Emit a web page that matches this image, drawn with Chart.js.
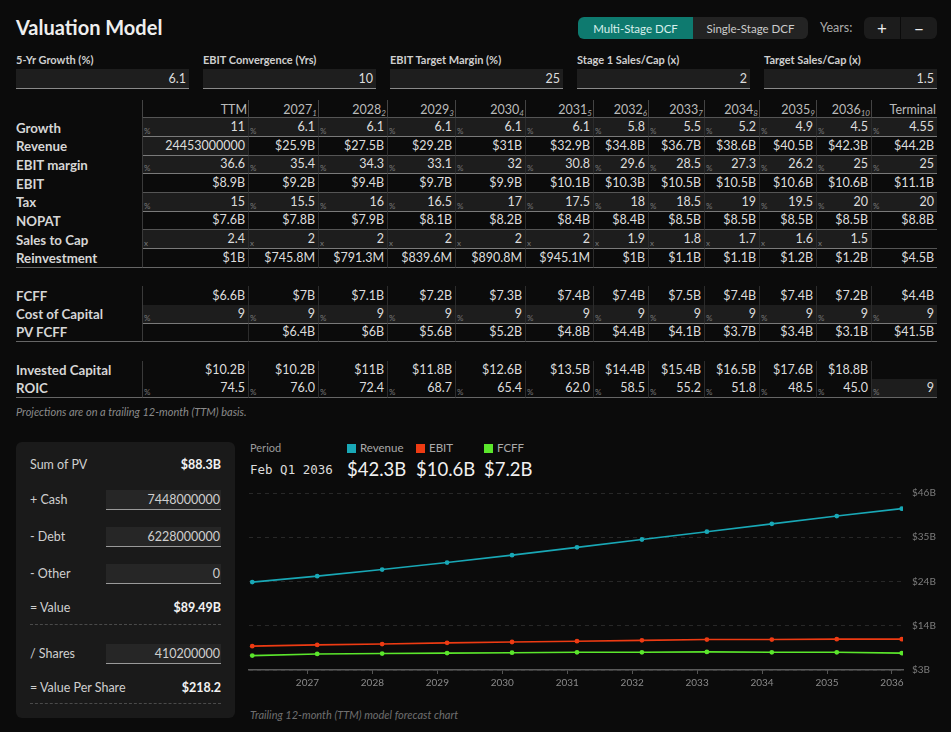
<!DOCTYPE html>
<html>
<head>
<meta charset="utf-8">
<script src="https://cdn.jsdelivr.net/npm/chart.js@4.4.1/dist/chart.umd.min.js"></script>
<style>
body{margin:0;background:#0b0b0b;color:#ddd;font-family:Lato,"Noto Sans",sans-serif;width:951px;height:732px;overflow:hidden;position:relative}
h1{position:absolute;left:16px;top:15px;margin:0;font-size:20px;font-weight:700;color:#eee}
.toggle{position:absolute;left:578px;top:17px;height:22px;display:flex;border-radius:6px;overflow:hidden;font-size:11.5px}
.toggle div{width:115px;display:flex;align-items:center;justify-content:center;background:#232323;color:#ccc}
.toggle .on{background:#0e7a6f;color:#d8efec}
.years{position:absolute;left:820px;top:20px;font-size:12.5px;color:#aaa}
.pm{position:absolute;left:864px;top:17px;width:73px;height:22px;display:flex;border-radius:6px;overflow:hidden;background:#1c1c1c}
.pm div{flex:1;display:flex;align-items:center;justify-content:center;color:#eee;font-size:17px}
.pm div+div{border-left:1px solid #0b0b0b}
.param{position:absolute;top:53px;width:173px}
.param label{display:block;font-size:11px;font-weight:700;color:#cfcfcf;height:16px}
.param .in{height:19px;background:#1e1e1e;border-bottom:1px solid #8a8a8a;text-align:right;font-size:12.5px;padding-right:3px;line-height:20px;color:#ddd}
table{position:absolute;left:16px;top:100px;border-collapse:separate;border-spacing:0;table-layout:fixed;width:921px;font-size:12.5px}
td,th{height:18.67px;padding:0 3px;box-sizing:border-box;white-space:nowrap;text-align:right;line-height:16px;position:relative;overflow:hidden}
th{height:18.3px;font-weight:400;color:#bbb;padding:2px 1px 0 3px;border-right:1px solid #444;border-bottom:1px solid #555;line-height:14px}
th:first-child{border-bottom:none}
th:last-child{border-right:none}
th sub{font-size:8px;font-style:italic;vertical-align:-2px;color:#aaa;line-height:0}
td{color:#ddd;border-right:1px solid #2c2c2c;border-bottom:1px solid #555}
td.lab{text-align:left;font-weight:700;font-size:13.3px;color:#d6d6d6;padding-left:0;border-right:1px solid #3a3a3a;border-bottom:none}
td:last-child{border-right:none}
td.inp{background:#1d1d1d;border-bottom-color:#7a7a7a}
tr.noline td{border-bottom:none}
tr.end td{border-bottom:1px solid #666}
tr.end td.lab{border-bottom:1px solid #666}
tr.spacer td{border:none;height:18.67px}
td .u{position:absolute;left:1px;bottom:0;font-size:8px;color:#777;line-height:10px}
.note{position:absolute;left:16px;top:405px;font-size:11px;font-style:italic;color:#8a8a8a}
.card{position:absolute;left:16px;top:442px;width:219px;height:276px;background:#1a1a1a;border-radius:6px;font-size:12.5px}
.card .row{position:absolute;left:14px;right:14px;height:20px;line-height:20px;color:#cfcfcf}
.card .row b{position:absolute;right:0;top:0;color:#f2f2f2}
.card .row .in{position:absolute;left:76px;right:0;top:0;height:19px;background:#262626;border-bottom:1px solid #9a9a9a;text-align:right;padding-right:1px;line-height:19px;color:#cfcfcf}
.card .dash{position:absolute;left:14px;right:14px;border-top:1px dashed #4a4a4a}
.chead{position:absolute;left:250px;top:441px;font-size:11px;color:#9a9a9a}
.leg{position:absolute;top:441px;font-size:11.5px;color:#aaa}
.leg i{display:inline-block;width:9px;height:9px;margin-right:4px;vertical-align:-1px}
.period{position:absolute;left:250px;top:462px;font-family:"DejaVu Sans Mono",monospace;font-size:12.5px;color:#ddd}
.big{position:absolute;top:458px;font-size:18.5px;color:#f0f0f0}
.cnote{position:absolute;left:250px;top:708px;font-size:11px;font-style:italic;color:#6f6f6f}
#wrap{position:absolute;left:245px;top:478px}
</style>
</head>
<body>
<h1>Valuation Model</h1>
<div class="toggle"><div class="on">Multi-Stage DCF</div><div>Single-Stage DCF</div></div>
<div class="years">Years:</div>
<div class="pm"><div>+</div><div>&minus;</div></div>
<div id="params"></div>
<table id="tbl"></table>
<div class="note">Projections are on a trailing 12-month (TTM) basis.</div>
<div class="card" id="card"></div>
<div class="chead">Period</div>
<div id="legend"></div>
<div class="period">Feb Q1 2036</div>
<div id="wrap"><canvas id="chart" width="706" height="214"></canvas></div>
<div class="cnote">Trailing 12-month (TTM) model forecast chart</div>
<script>
// inputs row
const paramLabels = ["5-Yr Growth (%)", "EBIT Convergence (Yrs)", "EBIT Target Margin (%)", "Stage 1 Sales/Cap (x)", "Target Sales/Cap (x)"];
const paramValues = ["6.1", "10", "25", "2", "1.5"];

// table columns
const periods = ["TTM", "2027", "2028", "2029", "2030", "2031", "2032", "2033", "2034", "2035", "2036", "Terminal"];
const colWidths = [127, 106, 70, 69, 68, 70, 68, 55, 56, 55, 57, 55, 65];

const growth = [11, 6.1, 6.1, 6.1, 6.1, 6.1, 5.8, 5.5, 5.2, 4.9, 4.5, 4.55];
const revenue = [24.453, 25.9, 27.5, 29.2, 31, 32.9, 34.8, 36.7, 38.6, 40.5, 42.3, 44.2];
const revenueInput = "24453000000";
const ebitMargin = [36.6, 35.4, 34.3, 33.1, 32, 30.8, 29.6, 28.5, 27.3, 26.2, 25, 25];
const ebit = [8.9, 9.2, 9.4, 9.7, 9.9, 10.1, 10.3, 10.5, 10.5, 10.6, 10.6, 11.1];
const tax = [15, 15.5, 16, 16.5, 17, 17.5, 18, 18.5, 19, 19.5, 20, 20];
const nopat = [7.6, 7.8, 7.9, 8.1, 8.2, 8.4, 8.4, 8.5, 8.5, 8.5, 8.5, 8.8];
const salesToCap = [2.4, 2, 2, 2, 2, 2, 1.9, 1.8, 1.7, 1.6, 1.5, null];
const reinvestment = [1, 0.7458, 0.7913, 0.8396, 0.8908, 0.9451, 1, 1.1, 1.1, 1.2, 1.2, 4.5];
const fcff = [6.6, 7, 7.1, 7.2, 7.3, 7.4, 7.4, 7.5, 7.4, 7.4, 7.2, 4.4];
const costOfCapital = [9, 9, 9, 9, 9, 9, 9, 9, 9, 9, 9, 9];
const pvFcff = [null, 6.4, 6, 5.6, 5.2, 4.8, 4.4, 4.1, 3.7, 3.4, 3.1, 41.5];
const investedCapital = [10.2, 10.2, 11, 11.8, 12.6, 13.5, 14.4, 15.4, 16.5, 17.6, 18.8, null];
const roic = [74.5, 76.0, 72.4, 68.7, 65.4, 62.0, 58.5, 55.2, 51.8, 48.5, 45.0, 9];

// summary card
const summaryLabels = ["Sum of PV", "+ Cash", "- Debt", "- Other", "= Value", "/ Shares", "= Value Per Share"];
const summaryValues = ["$88.3B", "7448000000", "6228000000", "0", "$89.49B", "410200000", "$218.2"];

// chart
const chartX = [2026.15, 2027.15, 2028.15, 2029.15, 2030.15, 2031.15, 2032.15, 2033.15, 2034.15, 2035.15, 2036.15];
const xTickYears = [2027, 2028, 2029, 2030, 2031, 2032, 2033, 2034, 2035, 2036];
const yTicks = [3.1, 13.85, 24.6, 35.35, 46.1];
const yTickLabels = ["$3B", "$14B", "$24B", "$35B", "$46B"];
const seriesNames = ["Revenue", "EBIT", "FCFF"];
const seriesColors = ["#19a8b6", "#ee3b13", "#5be62c"];
const headlineValues = ["$42.3B", "$10.6B", "$7.2B"];

const fmtB = v => v == null ? "" : v < 1 ? "$" + (v * 1000).toFixed(1) + "M" : "$" + v + "B";

// params
document.getElementById("params").innerHTML = paramLabels.map((l, i) =>
  `<div class="param" style="left:${16 + i * 187}px"><label>${l}</label><div class="in">${paramValues[i]}</div></div>`).join("");

// table
const rows = [
  {label: "Growth", vals: growth.map(String), unit: "%", input: true},
  {label: "Revenue", vals: [revenueInput, ...revenue.slice(1).map(fmtB)], inputIdx: [0]},
  {label: "EBIT margin", vals: ebitMargin.map(String), unit: "%", input: true},
  {label: "EBIT", vals: ebit.map(fmtB)},
  {label: "Tax", vals: tax.map(String), unit: "%", input: true},
  {label: "NOPAT", vals: nopat.map(fmtB)},
  {label: "Sales to Cap", vals: salesToCap.map(v => v == null ? "" : String(v)), unit: "x", input: true},
  {label: "Reinvestment", vals: reinvestment.map(fmtB), cls: "end"},
  {spacer: true},
  {label: "FCFF", vals: fcff.map(fmtB), cls: "noline"},
  {label: "Cost of Capital", vals: costOfCapital.map(String), unit: "%", input: true},
  {label: "PV FCFF", vals: pvFcff.map(fmtB), cls: "end"},
  {spacer: true},
  {label: "Invested Capital", vals: investedCapital.map(fmtB), cls: "noline"},
  {label: "ROIC", vals: roic.map((v, i) => i < 11 ? v.toFixed(1) : String(v)), unit: "%", inputIdx: [11], cls: "end"}
];

let html = "<colgroup>" + colWidths.map(w => `<col style="width:${w}px">`).join("") + "</colgroup>";
html += "<tr><th></th>" + periods.map((p, i) =>
  `<th>${p}${i > 0 && i < 11 ? `<sub>${i}</sub>` : ""}</th>`).join("") + "</tr>";
rows.forEach(r => {
  if (r.spacer) { html += `<tr class="spacer"><td colspan="13"></td></tr>`; return; }
  html += `<tr class="${r.cls || ""}"><td class="lab">${r.label}</td>`;
  r.vals.forEach((v, i) => {
    const isInp = v !== "" && (r.input || (r.inputIdx && r.inputIdx.includes(i)));
    const u = v !== "" && r.unit ? `<span class="u">${r.unit}</span>` : "";
    html += `<td class="${isInp ? "inp" : ""}">${u}${v}</td>`;
  });
  html += "</tr>";
});
document.getElementById("tbl").innerHTML = html;

// summary card
const cardTops = [13, 48, 85, 122, 156, 202, 236];
const cardInputs = [1, 2, 3, 5];
let ch = "";
summaryLabels.forEach((l, i) => {
  const val = cardInputs.includes(i) ? `<div class="in">${summaryValues[i]}</div>` : `<b>${summaryValues[i]}</b>`;
  ch += `<div class="row" style="top:${cardTops[i]}px">${l}${val}</div>`;
});
ch += `<div class="dash" style="top:182px"></div><div class="dash" style="top:261px"></div>`;
document.getElementById("card").innerHTML = ch;

// chart header legend
const legX = [347, 416, 484];
document.getElementById("legend").innerHTML = seriesNames.map((n, i) =>
  `<div class="leg" style="left:${legX[i]}px"><i style="background:${seriesColors[i]}"></i>${n}</div>` +
  `<div class="big" style="left:${legX[i]}px">${headlineValues[i]}</div>`).join("");

// chart
const seriesData = [revenue, ebit, fcff];
const ctx = document.getElementById("chart").getContext("2d");
new Chart(ctx, {
  type: "line",
  data: {
    datasets: seriesNames.map((n, k) => ({
      label: n,
      data: chartX.map((x, i) => ({x: x, y: seriesData[k][i]})),
      borderColor: seriesColors[k],
      backgroundColor: seriesColors[k],
      pointBackgroundColor: seriesColors[k],
      borderWidth: 1.6,
      pointRadius: 2.4,
      pointBorderWidth: 0,
      tension: 0,
      fill: false
    }))
  },
  options: {
    responsive: false,
    animation: false,
    layout: {padding: {top: 0, left: 0, right: 0, bottom: 0}},
    plugins: {legend: {display: false}, tooltip: {enabled: false}},
    scales: {
      x: {
        type: "linear",
        min: 2026.1,
        max: 2036.17,
        afterBuildTicks: s => { s.ticks = xTickYears.map(v => ({value: v})); },
        ticks: {color: "#8a8a8a", font: {size: 10, family: "Lato"}, padding: 3, maxRotation: 0, callback: v => String(v)},
        grid: {drawOnChartArea: false, drawTicks: true, tickLength: 4, color: "#555"},
        border: {display: true, color: "#5a5a5a", width: 1.5}
      },
      y: {
        position: "right",
        min: yTicks[0],
        max: yTicks[yTicks.length - 1],
        afterBuildTicks: s => { s.ticks = yTicks.map(v => ({value: v})); },
        afterFit: s => { s.width = 48; },
        ticks: {color: "#7d7d7d", font: {size: 10, family: "Lato"}, padding: 9, callback: (v, i) => yTickLabels[i]},
        grid: {color: "rgba(255,255,255,0.12)", drawTicks: false},
        border: {display: false, dash: [4, 4]}
      }
    }
  }
});
</script>
</body>
</html>
